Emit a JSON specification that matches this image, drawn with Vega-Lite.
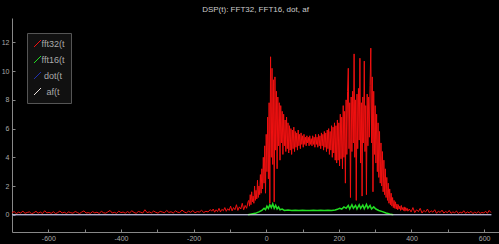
{
  "$schema": "https://vega.github.io/schema/vega-lite/v6.json",
  "autosize": "none",
  "width": 487,
  "height": 214,
  "padding": {"left": 12, "top": 18, "right": 0, "bottom": 12},
  "background": "#000000",
  "title": {"text": "DSP(t): FFT32, FFT16, dot, af", "color": "#cccccc", "font": "Liberation Sans", "fontSize": 8, "fontWeight": "normal", "offset": 4, "anchor": "middle"},
  "config": {
    "view": {"stroke": null},
    "axis": {"domainColor": "#888888", "tickColor": "#888888", "labelColor": "#aaaaaa", "labelFont": "Liberation Sans", "labelFontSize": 7, "grid": false, "title": null}
  },
  "datasets": {
    "r": [
      {"x":-700,"y":0.15},{"x":-694,"y":0.22},{"x":-688,"y":0.08},{"x":-682,"y":0.18},{"x":-676,"y":0.12},{"x":-670,"y":0.25},{"x":-664,"y":0.1},{"x":-658,"y":0.16},{"x":-652,"y":0.2},{"x":-646,"y":0.07},
      {"x":-640,"y":0.14},{"x":-634,"y":0.24},{"x":-628,"y":0.11},{"x":-622,"y":0.19},{"x":-616,"y":0.09},{"x":-610,"y":0.28},{"x":-604,"y":0.13},{"x":-598,"y":0.17},{"x":-592,"y":0.1},{"x":-586,"y":0.21},
      {"x":-580,"y":0.08},{"x":-574,"y":0.15},{"x":-568,"y":0.26},{"x":-562,"y":0.12},{"x":-556,"y":0.18},{"x":-550,"y":0.09},{"x":-544,"y":0.2},{"x":-538,"y":0.14},{"x":-532,"y":0.11},{"x":-526,"y":0.23},
      {"x":-520,"y":0.16},{"x":-514,"y":0.08},{"x":-508,"y":0.19},{"x":-502,"y":0.27},{"x":-496,"y":0.12},{"x":-490,"y":0.15},{"x":-484,"y":0.1},{"x":-478,"y":0.22},{"x":-472,"y":0.13},{"x":-466,"y":0.18},
      {"x":-460,"y":0.09},{"x":-454,"y":0.24},{"x":-448,"y":0.14},{"x":-442,"y":0.11},{"x":-436,"y":0.2},{"x":-430,"y":0.3},{"x":-424,"y":0.12},{"x":-418,"y":0.17},{"x":-412,"y":0.1},{"x":-406,"y":0.25},
      {"x":-400,"y":0.15},{"x":-394,"y":0.19},{"x":-388,"y":0.11},{"x":-382,"y":0.22},{"x":-376,"y":0.13},{"x":-370,"y":0.28},{"x":-364,"y":0.16},{"x":-358,"y":0.1},{"x":-352,"y":0.23},{"x":-346,"y":0.18},
      {"x":-340,"y":0.12},{"x":-334,"y":0.35},{"x":-328,"y":0.15},{"x":-322,"y":0.2},{"x":-316,"y":0.13},{"x":-310,"y":0.26},{"x":-304,"y":0.17},{"x":-298,"y":0.11},{"x":-292,"y":0.24},{"x":-286,"y":0.19},
      {"x":-280,"y":0.14},{"x":-274,"y":0.3},{"x":-268,"y":0.16},{"x":-262,"y":0.21},{"x":-256,"y":0.12},{"x":-250,"y":0.27},{"x":-244,"y":0.18},{"x":-238,"y":0.15},{"x":-232,"y":0.33},{"x":-226,"y":0.2},
      {"x":-220,"y":0.13},{"x":-214,"y":0.25},{"x":-208,"y":0.17},{"x":-202,"y":0.29},{"x":-196,"y":0.14},{"x":-190,"y":0.22},{"x":-184,"y":0.19},{"x":-178,"y":0.31},{"x":-172,"y":0.16},{"x":-166,"y":0.24},
      {"x":-160,"y":0.2},{"x":-154,"y":0.36},
      {"x":-150,"y":0.25},{"x":-146,"y":0.4},{"x":-142,"y":0.18},{"x":-138,"y":0.35},{"x":-134,"y":0.22},{"x":-130,"y":0.45},{"x":-126,"y":0.2},{"x":-122,"y":0.38},{"x":-118,"y":0.28},{"x":-114,"y":0.5},
      {"x":-110,"y":0.24},{"x":-106,"y":0.42},{"x":-102,"y":0.3},{"x":-98,"y":0.6},{"x":-94,"y":0.27},{"x":-90,"y":0.5},{"x":-86,"y":0.35},{"x":-82,"y":0.7},{"x":-78,"y":0.3},{"x":-74,"y":0.55},
      {"x":-70,"y":0.4},{"x":-66,"y":0.8},{"x":-62,"y":0.35},{"x":-58,"y":0.65},{"x":-54,"y":0.45},{"x":-50,"y":0.9},
      {"x":-48,"y":1.0},{"x":-46,"y":0.6},{"x":-44,"y":1.4},{"x":-42,"y":0.7},{"x":-40,"y":1.6},{"x":-38,"y":0.9},{"x":-36,"y":1.3},{"x":-34,"y":0.8},{"x":-32,"y":2.0},{"x":-30,"y":1.0},
      {"x":-28,"y":1.7},{"x":-26,"y":1.1},{"x":-24,"y":2.4},{"x":-22,"y":1.2},{"x":-20,"y":2.0},{"x":-18,"y":1.4},{"x":-16,"y":2.8},{"x":-14,"y":1.5},{"x":-12,"y":3.2},{"x":-10,"y":1.8},
      {"x":-8,"y":4.0},{"x":-6,"y":2.2},{"x":-4,"y":4.8},{"x":-2,"y":1.5},{"x":0,"y":5.6},{"x":2,"y":3.0},{"x":4,"y":6.8},{"x":6,"y":2.5},{"x":8,"y":7.8},{"x":10,"y":0.8},
      {"x":12,"y":11.0},{"x":14,"y":4.0},{"x":16,"y":10.2},{"x":18,"y":3.5},{"x":20,"y":9.4},{"x":22,"y":0.9},{"x":24,"y":9.6},{"x":26,"y":4.5},{"x":28,"y":8.6},{"x":30,"y":3.2},
      {"x":32,"y":8.2},{"x":34,"y":4.8},{"x":36,"y":7.8},{"x":38,"y":3.8},{"x":40,"y":7.6},{"x":42,"y":5.0},{"x":44,"y":7.2},{"x":46,"y":4.2},{"x":48,"y":7.0},{"x":50,"y":4.8},
      {"x":52,"y":6.6},{"x":54,"y":4.4},{"x":56,"y":6.8},{"x":58,"y":4.6},{"x":60,"y":6.4},
      {"x":62,"y":4.3},{"x":64,"y":6.2},{"x":66,"y":4.5},{"x":68,"y":6.0},{"x":70,"y":4.2},{"x":72,"y":5.9},{"x":74,"y":4.6},{"x":76,"y":6.1},{"x":78,"y":4.4},{"x":80,"y":5.8},
      {"x":82,"y":4.7},{"x":84,"y":5.7},{"x":86,"y":4.5},{"x":88,"y":5.9},{"x":90,"y":4.8},{"x":92,"y":5.6},{"x":94,"y":4.6},{"x":96,"y":5.7},{"x":98,"y":4.9},{"x":100,"y":5.5},
      {"x":102,"y":4.7},{"x":104,"y":5.6},{"x":106,"y":4.9},{"x":108,"y":5.4},{"x":110,"y":4.8},{"x":112,"y":5.5},{"x":114,"y":5.0},{"x":116,"y":5.4},{"x":118,"y":4.8},{"x":120,"y":5.5},
      {"x":122,"y":4.9},{"x":124,"y":5.3},{"x":126,"y":4.8},{"x":128,"y":5.5},{"x":130,"y":4.9},{"x":132,"y":5.4},{"x":134,"y":4.7},{"x":136,"y":5.6},{"x":138,"y":4.9},{"x":140,"y":5.4},
      {"x":142,"y":4.7},{"x":144,"y":5.6},{"x":146,"y":4.8},{"x":148,"y":5.5},{"x":150,"y":4.6},{"x":152,"y":5.7},{"x":154,"y":4.8},{"x":156,"y":5.6},{"x":158,"y":4.5},{"x":160,"y":5.8},
      {"x":162,"y":4.7},{"x":164,"y":5.7},{"x":166,"y":4.4},{"x":168,"y":5.9},{"x":170,"y":4.6},{"x":172,"y":6.0},{"x":174,"y":4.2},{"x":176,"y":5.8},{"x":178,"y":4.5},{"x":180,"y":6.2},
      {"x":182,"y":4.0},{"x":184,"y":6.1},{"x":186,"y":4.3},{"x":188,"y":6.4},{"x":190,"y":3.8},
      {"x":192,"y":6.2},{"x":194,"y":3.6},{"x":196,"y":6.6},{"x":198,"y":3.8},{"x":200,"y":6.4},{"x":202,"y":3.4},{"x":204,"y":7.0},{"x":206,"y":3.9},{"x":208,"y":6.8},{"x":210,"y":3.2},
      {"x":212,"y":7.6},{"x":214,"y":4.0},{"x":216,"y":7.2},{"x":218,"y":2.2},{"x":220,"y":8.0},{"x":222,"y":4.2},{"x":224,"y":8.6},{"x":226,"y":10.2},{"x":228,"y":4.6},{"x":230,"y":7.8},
      {"x":232,"y":1.2},{"x":234,"y":8.2},{"x":236,"y":4.4},{"x":238,"y":8.6},{"x":240,"y":5.0},{"x":242,"y":11.2},{"x":244,"y":4.0},{"x":246,"y":8.0},{"x":248,"y":1.0},{"x":250,"y":8.4},
      {"x":252,"y":4.6},{"x":254,"y":8.8},{"x":256,"y":5.2},{"x":258,"y":10.9},{"x":260,"y":3.6},{"x":262,"y":7.8},{"x":264,"y":1.3},{"x":266,"y":8.2},{"x":268,"y":5.0},{"x":270,"y":10.7},
      {"x":272,"y":4.4},{"x":274,"y":7.6},{"x":276,"y":1.4},{"x":278,"y":8.4},{"x":280,"y":4.8},{"x":282,"y":8.2},{"x":284,"y":5.4},{"x":286,"y":9.0},{"x":288,"y":11.6},{"x":290,"y":5.0},
      {"x":292,"y":9.6},{"x":294,"y":1.6},{"x":296,"y":8.6},{"x":298,"y":4.2},{"x":300,"y":7.6},
      {"x":302,"y":3.6},{"x":304,"y":7.0},{"x":306,"y":3.0},{"x":308,"y":6.4},{"x":310,"y":2.6},{"x":312,"y":5.8},{"x":314,"y":2.2},{"x":316,"y":5.0},{"x":318,"y":2.0},{"x":320,"y":4.4},
      {"x":322,"y":1.6},{"x":324,"y":3.8},{"x":326,"y":1.4},{"x":328,"y":3.2},{"x":330,"y":1.2},{"x":332,"y":2.6},{"x":334,"y":1.0},{"x":336,"y":2.2},{"x":338,"y":0.8},{"x":340,"y":1.8},
      {"x":342,"y":0.7},{"x":344,"y":1.5},{"x":346,"y":0.6},{"x":348,"y":1.2},{"x":350,"y":0.5},{"x":352,"y":1.0},{"x":354,"y":0.45},{"x":356,"y":0.9},{"x":358,"y":0.4},{"x":360,"y":0.75},
      {"x":362,"y":0.35},{"x":364,"y":0.7},{"x":366,"y":0.4},{"x":368,"y":0.6},{"x":370,"y":0.3},{"x":372,"y":0.65},{"x":374,"y":0.35},{"x":376,"y":0.5},{"x":378,"y":0.3},{"x":380,"y":0.55},
      {"x":382,"y":0.25},{"x":384,"y":0.5},{"x":386,"y":0.3},{"x":388,"y":0.45},{"x":390,"y":0.25},
      {"x":394,"y":0.4},{"x":399,"y":0.2},{"x":404,"y":0.5},{"x":409,"y":0.15},{"x":414,"y":0.35},{"x":419,"y":0.22},{"x":424,"y":0.45},{"x":429,"y":0.12},{"x":434,"y":0.3},{"x":439,"y":0.2},
      {"x":444,"y":0.4},{"x":449,"y":0.15},{"x":454,"y":0.28},{"x":459,"y":0.18},{"x":464,"y":0.35},{"x":469,"y":0.1},{"x":474,"y":0.25},{"x":479,"y":0.16},{"x":484,"y":0.32},{"x":489,"y":0.12},
      {"x":494,"y":0.22},{"x":499,"y":0.15},{"x":504,"y":0.3},{"x":509,"y":0.1},{"x":514,"y":0.2},{"x":519,"y":0.14},{"x":524,"y":0.26},{"x":529,"y":0.09},{"x":534,"y":0.18},{"x":539,"y":0.12},
      {"x":544,"y":0.28},{"x":549,"y":0.1},{"x":554,"y":0.2},{"x":559,"y":0.13},{"x":564,"y":0.24},{"x":569,"y":0.08},{"x":574,"y":0.18},{"x":579,"y":0.11},{"x":584,"y":0.22},{"x":589,"y":0.1},
      {"x":594,"y":0.16},{"x":599,"y":0.12},{"x":604,"y":0.25},{"x":609,"y":0.1},{"x":614,"y":0.3},{"x":619,"y":0.15}
    ],
    "g": [
      {"x":-50,"y":0.0},{"x":-40,"y":0.05},{"x":-30,"y":0.1},{"x":-20,"y":0.2},{"x":-12,"y":0.3},{"x":-6,"y":0.45},{"x":-2,"y":0.35},{"x":2,"y":0.6},{"x":6,"y":0.45},{"x":10,"y":0.7},
      {"x":14,"y":0.5},{"x":18,"y":0.75},{"x":22,"y":0.45},{"x":26,"y":0.65},{"x":30,"y":0.4},{"x":34,"y":0.55},{"x":38,"y":0.35},{"x":44,"y":0.4},{"x":50,"y":0.3},{"x":60,"y":0.33},
      {"x":70,"y":0.3},{"x":80,"y":0.32},{"x":90,"y":0.3},{"x":100,"y":0.31},{"x":110,"y":0.3},{"x":120,"y":0.3},{"x":130,"y":0.31},{"x":140,"y":0.3},{"x":150,"y":0.31},{"x":160,"y":0.3},
      {"x":170,"y":0.32},{"x":180,"y":0.3},{"x":190,"y":0.33},{"x":196,"y":0.38},{"x":202,"y":0.45},{"x":208,"y":0.4},{"x":214,"y":0.55},{"x":220,"y":0.45},{"x":226,"y":0.65},{"x":230,"y":0.4},
      {"x":236,"y":0.7},{"x":240,"y":0.45},{"x":246,"y":0.65},{"x":250,"y":0.4},{"x":256,"y":0.7},{"x":260,"y":0.45},{"x":266,"y":0.68},{"x":270,"y":0.42},{"x":276,"y":0.72},{"x":280,"y":0.45},
      {"x":286,"y":0.65},{"x":290,"y":0.4},{"x":296,"y":0.55},{"x":302,"y":0.4},{"x":310,"y":0.3},{"x":320,"y":0.22},{"x":330,"y":0.12},{"x":340,"y":0.05},{"x":350,"y":0.0}
    ],
    "b": [{"x":-700,"y":0},{"x":620,"y":0}],
    "w": [{"x":-700,"y":0},{"x":620,"y":0}]
  },
  "encoding": {
    "x": {"field": "x", "type": "quantitative", "scale": {"domain": [-700, 641], "nice": false, "zero": false},
      "axis": {"values": [-600,-500,-400,-300,-200,-100,0,100,200,300,400,500,600], "labelExpr": "datum.value % 200 == 0 ? '' + datum.value : ''", "tickSize": -3, "labelPadding": 5}},
    "y": {"field": "y", "type": "quantitative", "scale": {"domain": [-1.2, 13.7], "nice": false, "zero": false},
      "axis": {"values": [0,2,4,6,8,10,12], "labelExpr": "'' + datum.value", "tickSize": -3, "labelPadding": 6}}
  },
  "layer": [
    {"data": {"name": "r"}, "mark": {"type": "line", "strokeWidth": 1, "clip": true},
      "encoding": {"color": {"datum": "fft32(t", "type": "nominal",
        "scale": {"domain": ["fft32(t", "fft16(t", "dot(t", "af(t"], "range": ["#f01010", "#22dd22", "#2030b0", "#e8e0dc"]},
        "legend": {"title": null, "orient": "none", "legendX": 15, "legendY": 15, "fillColor": "#111111", "strokeColor": "#555555", "padding": 6, "rowPadding": 5,
          "symbolType": "M-1,1L1,-1", "symbolSize": 49, "symbolStrokeWidth": 1, "labelAlign": "center", "labelOffset": 11, "labelColor": "#aaaaaa", "labelFont": "Liberation Sans", "labelFontSize": 9}}}},
    {"data": {"name": "b"}, "mark": {"type": "line", "strokeWidth": 1}, "encoding": {"color": {"datum": "dot(t", "type": "nominal"}}},
    {"data": {"name": "g"}, "mark": {"type": "line", "strokeWidth": 1.5}, "encoding": {"color": {"datum": "fft16(t", "type": "nominal"}}},
    {"data": {"name": "w"}, "mark": {"type": "line", "strokeWidth": 1}, "encoding": {"color": {"datum": "af(t", "type": "nominal"}}}
  ]
}
